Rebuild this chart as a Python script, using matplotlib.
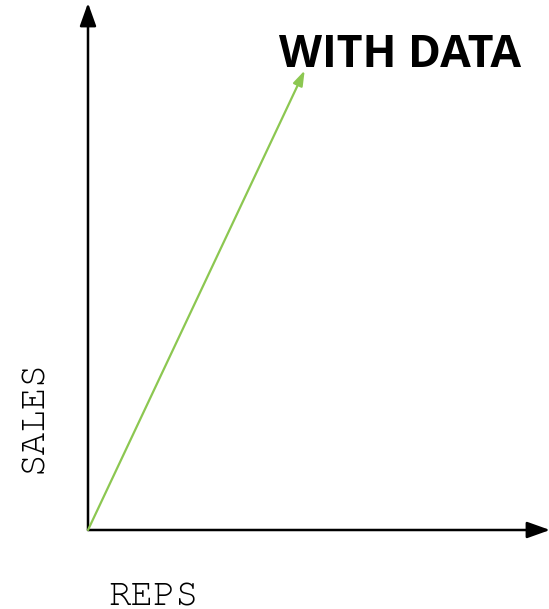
import matplotlib
matplotlib.use("Agg")
import matplotlib.pyplot as plt

# trend arrow (axes units, origin at the axis corner)
reps = [0.0, 0.469]
sales = [0.0, 0.872]
title = "WITH DATA"
x_label = "REPS"
y_label = "SALES"

GREEN = "#8cc751"
MONO = ["FreeMono", "Liberation Mono", "DejaVu Sans Mono"]

fig = plt.figure(figsize=(5.49, 6.09), dpi=100)
ax = fig.add_axes([88/549, 79/609, 462/549, 527/609])
ax.set_xlim(0, 1)
ax.set_ylim(0, 1)
ax.axis("off")

# axes with arrow heads
axis_style = dict(arrowstyle="-|>,head_length=1.4,head_width=0.5", color="black", lw=1.8,
                  shrinkA=0, shrinkB=0)
ax.annotate("", xy=(0, 1), xytext=(0, 0), xycoords="axes fraction", arrowprops=axis_style,
            annotation_clip=False)
ax.annotate("", xy=(1, 0), xytext=(0, 0), xycoords="axes fraction", arrowprops=axis_style,
            annotation_clip=False)

# the data trend
ax.annotate("", xy=(reps[1], sales[1]), xytext=(reps[0], sales[0]),
            arrowprops=dict(arrowstyle="-|>,head_length=0.9,head_width=0.3", color=GREEN, lw=1.6,
                            shrinkA=0, shrinkB=0))

fig.text(400/549, 1-67/609, title, fontsize=32, fontweight="bold", family=["Open Sans", "DejaVu Sans"],
         ha="center", va="baseline")
fig.text(33/549, 1-417/609, y_label, fontsize=27, family=MONO, rotation=90,
         ha="center", va="center")
fig.text(153/549, 1-605/609, x_label, fontsize=27, family=MONO,
         ha="center", va="baseline")

fig.savefig("out.png", dpi=100)
